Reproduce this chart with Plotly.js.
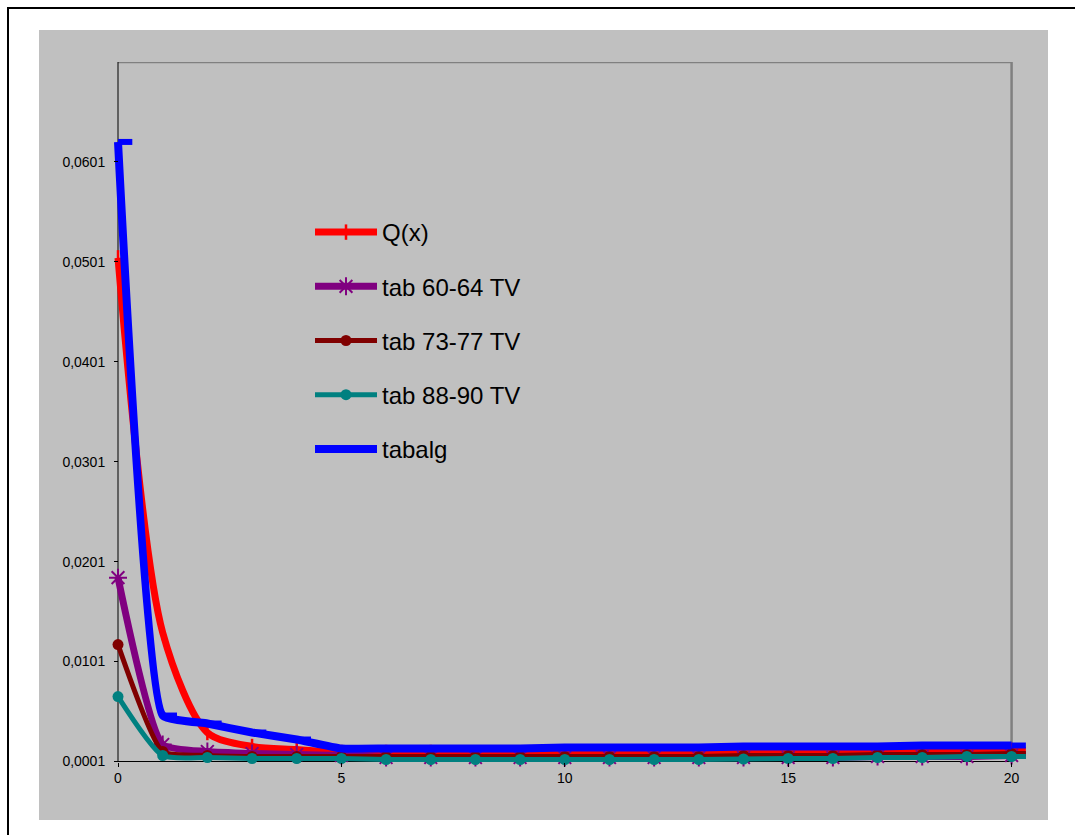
<!DOCTYPE html>
<html><head><meta charset="utf-8">
<script src="https://cdn.plot.ly/plotly-3.0.1.min.js"></script>
<style>
html,body{margin:0;padding:0;background:#fff;overflow:hidden;width:1075px;height:835px;}
#frame{position:absolute;left:7px;top:7px;width:1200px;height:1000px;border:2px solid #000;box-sizing:border-box;}
#chart{position:absolute;left:39px;top:30px;width:1009px;height:790px;}
</style></head><body>
<div id="frame"></div>
<div id="chart"></div>
<script>
// ---- data ----
const xValues = [0,1,2,3,4,5,6,7,8,9,10,11,12,13,14,15,16,17,18,19,20];
const qx      = [0.0505,0.0130,0.0030,0.0016,0.0013,0.0010,0.0010,0.0010,0.0009,0.0009,0.0010,0.0010,0.0010,0.0010,0.0010,0.0010,0.0011,0.0011,0.0011,0.0011,0.0012];
const tab6064 = [0.0185,0.0018,0.0011,0.0009,0.0008,0.0007,0.0005,0.0005,0.0005,0.0005,0.0005,0.0005,0.0005,0.0005,0.0005,0.0005,0.0005,0.0006,0.0006,0.0006,0.0007];
const tab7377 = [0.0118,0.0011,0.0007,0.0006,0.0006,0.0006,0.0006,0.0006,0.0006,0.0006,0.0006,0.0006,0.0006,0.0006,0.0007,0.0007,0.0007,0.0008,0.0008,0.0008,0.0009];
const tab8890 = [0.0066,0.0007,0.0005,0.0004,0.0004,0.0004,0.0003,0.0003,0.0003,0.0003,0.0003,0.0003,0.0003,0.0003,0.00035,0.0004,0.0004,0.0005,0.0005,0.0006,0.0006];
const tabalg  = [0.0621,0.0047,0.0039,0.0030,0.0023,0.0014,0.0014,0.0014,0.0014,0.0014,0.0015,0.0015,0.0015,0.0015,0.0016,0.0016,0.0016,0.0016,0.0017,0.0017,0.0017];
const seriesNames = ['Q(x)','tab 60-64 TV','tab 73-77 TV','tab 88-90 TV','tabalg'];
const xTickVals = [0,5,10,15,20];
const yTickVals = [0.0001,0.0101,0.0201,0.0301,0.0401,0.0501,0.0601];

// ---- layout geometry ----
const W = 1009, H = 790, L = 72, R = 16, T = 32, B = 57;
const xr = [-0.157, 20.457];
const yr = [-0.00005, 0.0701];
const stubLen = 0.32;
const FONT = 'Liberation Sans, Arial, sans-serif';

function px2paperX(px){ return (px - 39 - L) / (W - L - R); }
function px2paperY(py){ return 1 - (py - 30 - T) / (H - T - B); }

const colors = ['#FF0000','#800080','#800000','#008080','#0000FF'];
const widths = [7,7,5,5,8];
const smooth = [0.8,0.5,0.5,0.6,0.35];
const data = [];
const ys = [qx, tab6064, tab7377, tab8890, tabalg];
const markers = [
  {symbol:'line-ns-open', size:11, color:'#FF0000', line:{color:'#FF0000', width:2.5}},
  {symbol:'asterisk-open', size:15, color:'#800080', line:{color:'#800080', width:2}},
  {symbol:'circle', size:11, color:'#800000', line:{width:0}},
  {symbol:'circle', size:11, color:'#008080', line:{width:0}},
  null
];
ys.forEach((y, i) => {
  const tr = {
    type:'scatter', x:xValues, y:y, name:seriesNames[i], legendgroup:'g'+i,
    mode: markers[i] ? 'lines+markers' : 'lines',
    line:{color:colors[i], width:widths[i], shape:'spline', smoothing:smooth[i]},
    cliponaxis:false, hoverinfo:'x+y'
  };
  if (markers[i]) tr.marker = markers[i];
  data.push(tr);
  // short horizontal continuation (as in the original drawing)
  const n = xValues.length - 1;
  const sx = [], sy = [];
  if (i === 4) {
    xValues.forEach((xv, k) => { sx.push(xv, xv + stubLen, null); sy.push(y[k], y[k], null); });
  } else {
    sx.push(xValues[n], xValues[n] + stubLen); sy.push(y[n], y[n]);
  }
  data.push({type:'scatter', x:sx, y:sy, mode:'lines', showlegend:false, legendgroup:'g'+i,
    line:{color:colors[i], width: i===4 ? 6 : widths[i]}, hoverinfo:'skip'});
});

const layout = {
  width:W, height:H,
  margin:{l:L, r:R, t:T, b:B, pad:0},
  paper_bgcolor:'#C0C0C0', plot_bgcolor:'#C0C0C0',
  font:{family:FONT, size:14, color:'#000'},
  separators:',.',
  showlegend:true,
  legend:{
    x:px2paperX(310), y:px2paperY(210), xanchor:'left', yanchor:'top',
    bgcolor:'rgba(0,0,0,0)', borderwidth:0,
    font:{family:FONT, size:24, color:'#000'},
    traceorder:'grouped', tracegroupgap:20, itemwidth:62
  },
  xaxis:{
    range:xr, anchor:'free', position:(0.0001 - yr[0])/(yr[1]-yr[0]),
    showline:false, showgrid:false, zeroline:false,
    tickmode:'array', tickvals:xTickVals, ticktext:xTickVals.map(String),
    ticks:'outside', ticklen:4, tickwidth:1, tickcolor:'#000',
    tickfont:{family:FONT, size:14, color:'#000'}
  },
  yaxis:{
    range:yr, anchor:'free', position:(0 - xr[0])/(xr[1]-xr[0]),
    showline:false, showgrid:false, zeroline:false,
    tickmode:'array', tickvals:yTickVals, ticktext:yTickVals.map(v => v.toFixed(4).replace('.', ',')),
    ticks:'outside', ticklen:4, tickwidth:1, tickcolor:'#000',
    ticklabelstandoff:6,
    tickfont:{family:FONT, size:14, color:'#000'}
  },
  shapes:[
    {type:'line', xref:'x', yref:'y', x0:0, x1:20, y0:0.0701, y1:0.0701, line:{color:'#808080', width:2.5}, layer:'below'},
    {type:'line', xref:'x', yref:'y', x0:20, x1:20, y0:0.0001, y1:0.0701, line:{color:'#808080', width:2.5}, layer:'below'},
    {type:'line', xref:'x', yref:'y', x0:0, x1:20, y0:0.0001, y1:0.0001, line:{color:'#000', width:1}, layer:'below'},
    {type:'line', xref:'x', yref:'y', x0:0, x1:0, y0:0.0001, y1:0.0701, line:{color:'#000', width:1}, layer:'below'}
  ]
};
Plotly.newPlot('chart', data, layout, {staticPlot:true, displayModeBar:false});
</script>
</body></html>
